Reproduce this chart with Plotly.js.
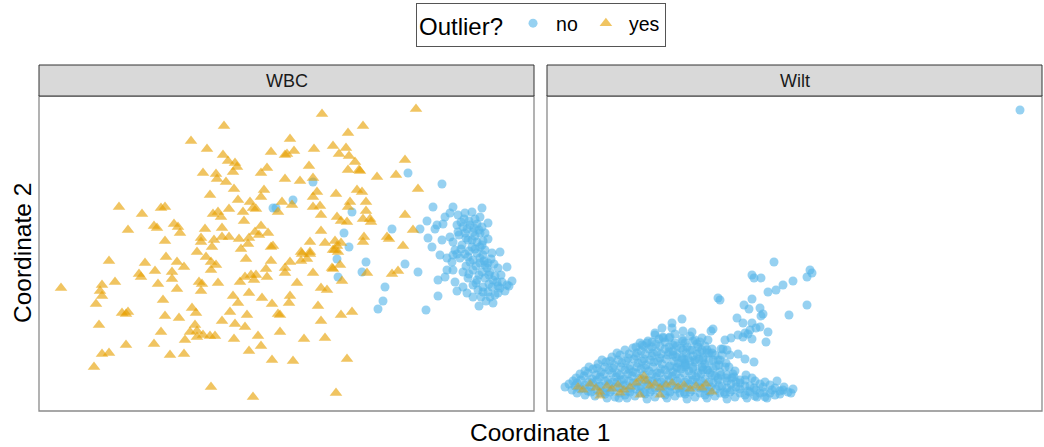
<!DOCTYPE html>
<html>
<head>
<meta charset="utf-8">
<script src="https://cdn.plot.ly/plotly-3.0.1.min.js"></script>
<style>html,body{margin:0;padding:0;background:#fff;}#chart{width:1044px;height:447px;}</style>
</head>
<body>
<div id="chart"></div>
<script>
// ---- Data (Coordinate 1, Coordinate 2), arbitrary MDS units ----
const panels = ["WBC", "Wilt"];
const legendLabels = ["no", "yes"];

const wbcYes = [
[185,285],[152,270],[168,262],[184,256],[189,250],[196,248],[198,244],[232,259],[246,256],[228,243],
[222,238],[246,232],[164,238],[177,237],[178,232],[194,239],[187,229],[195,222],[225,221],[222,214],
[171,216],[199,211],[211,209],[214,203],[217,202],[243,209],[239,199],[204,199],[190,202],[174,197],
[179,199],[182,194],[205,190],[80,204],[103,197],[122,203],[126,204],[89,181],[115,185],[118,183],
[135,187],[139,184],[141,178],[126,170],[166,182],[183,183],[222,185],[162,173],[162,169],[175,171],
[183,174],[190,174],[200,172],[210,173],[216,179],[220,176],[229,178],[209,167],[173,164],[202,162],
[232,164],[234,165],[158,159],
[377,302],[283,297],[324,285],[309,278],[251,272],[248,257],[255,260],[275,262],[294,265],[307,263],
[300,257],[310,255],[316,249],[366,251],[270,245],[309,241],[320,241],[321,240],[338,234],[357,236],
[261,230],[274,233],[379,222],[278,219],[274,214],[297,217],[318,221],[323,219],[253,206],[274,204],
[281,205],[311,209],[309,204],[327,209],[327,200],[282,196],[298,194],[302,190],[308,189],[324,192],
[331,192],[332,189],[366,196],[282,180],[374,181],[325,174],[324,169],[271,169],[286,168],[296,170],
[298,165],[302,168],[348,174],[350,172],[364,165],[294,161],[299,159],[262,159],[271,159],
[70,150],[22,123],[63,126],[61,120],[63,115],[57,107],[76,129],[106,148],[127,154],[138,149],
[145,144],[116,140],[100,137],[102,134],[133,139],[133,132],[119,127],[138,122],[124,111],[167,154],
[172,149],[177,146],[172,141],[207,152],[232,150],[227,142],[246,143],[246,138],[160,129],[163,127],
[162,120],[179,128],[201,129],[206,134],[212,136],[217,136],[215,131],[228,134],[194,115],[210,118],
[199,108],[223,113],[233,107],[239,97],[153,103],[157,98],[191,99],[208,96],[183,90],[196,87],
[206,84],[241,79],[219,75],[222,65],[210,60],[233,51],[195,72],[156,86],[151,79],[158,80],
[164,76],[158,74],[171,75],[176,75],[146,71],[126,95],[140,93],[122,79],[115,67],[131,56],
[145,57],[83,98],[89,99],[87,97],[60,86],[87,66],[63,57],[70,58],[55,44],[172,24],[214,14],
[251,149],[263,157],[271,157],[262,150],[268,152],[274,138],[294,142],[293,143],[301,146],[303,130],
[258,128],[282,123],[288,121],[251,115],[250,108],[279,105],[302,96],[313,99],[282,90],[241,96],
[265,72],[286,73],[254,50],[308,52],[297,18],[328,138],[353,137],[359,140],[296,161]
];

const wbcNo = [
[234,203],[237,203],[369,238],[403,227],[274,229],[254,211],[313,199],[305,178],[310,164],[353,182],
[381,182],[327,149],[323,139],[298,152],[299,134],[366,147],[379,139],[346,124],[344,110],[339,102],
[387,101],[399,115],[443,203],
[394,204],[414,204],[406,194],[411,198],[419,196],[426,198],[433,199],[441,194],[449,188],[388,190],
[398,186],[404,187],[396,182],[418,186],[424,184],[431,186],[438,187],[443,184],[419,179],[426,178],
[434,179],[441,178],[446,178],[389,173],[403,171],[411,174],[414,169],[429,171],[438,169],[449,172],
[393,164],[433,164],[441,164],[446,161],[401,156],[408,153],[414,156],[421,153],[429,154],[438,158],
[444,156],[453,158],[461,159],[413,149],[441,148],[449,148],[468,144],[408,141],[414,141],[424,139],
[434,141],[443,139],[451,139],[459,143],[399,131],[406,134],[416,129],[429,133],[438,131],[446,133],
[454,131],[463,129],[473,130],[424,124],[434,126],[444,124],[453,124],[459,125],[468,126],[418,120],
[428,118],[439,121],[449,119],[466,120],[434,114],[442,114],[451,114],[456,116],[454,108],[440,105],
[422,189],[436,175],[431,149],[448,143],[456,135],[423,166],[416,161],[461,123],[441,153],[427,145],
[425,192],[430,190],[436,192],[428,182],[435,183],[440,181],[420,176],[427,173],[433,171],[444,170],
[422,162],[430,160],[436,162],[443,166],[418,157],[426,157],[434,151],[445,150],[452,152],[437,145],
[446,146],[455,147],[430,137],[440,136],[450,136],[462,136],[437,128],[450,127],[458,129],[470,125],
[444,119],[459,118],[447,110]
];

const wiltNo = [
[473,301],[227,149],[205,136],[207,133],[214,133],[263,141],[260,134],[265,138],[246,130],[236,126],
[229,121],[221,119],[171,113],[173,111],[205,112],[197,106],[202,102],[213,103],[260,106],[242,96],
[214,95],[216,97],[190,93],[196,88],[205,88],[209,83],[213,84],[203,81],[221,79],[201,77],
[191,76],[184,73],[178,71],[205,72],[219,69],[166,82],[164,80],[174,62],[180,61],[191,57],
[198,52],[207,49],[135,92],[125,88],[125,83],[115,83],[136,80],[145,79],[108,78],[105,69],
[116,73],[123,74],[148,71],[155,73],[161,71],[151,64],[160,61],[165,58],[138,68],[145,61],
[141,53],[138,48],[155,44],[160,41],[171,51],[182,44],[180,36],[185,33],[95,66],[100,68],
[72,13],[210,14],[244,18],[236,21],
[196,74],[198,78],[146,70],[153,69],[128,68],[136,61],[155,61],[162,58],[176,62],[175,56],
[183,56],[126,56],[135,53],[148,51],[156,51],[166,51],[172,46],[187,34],[130,44],[138,46],
[146,44],[156,41],[165,36],[171,33],
[108,76],[116,74],[128,77],[143,75],
[93,68],[101,70],[109,67],[118,69],[126,66],[136,70],[150,67],
[78,61],[86,63],[94,60],[102,62],[110,59],[118,62],[126,60],[134,63],[143,61],[153,59],[165,62],
[65,54],[73,56],[81,53],[89,55],[97,52],[105,55],[113,53],[121,56],[129,54],[137,52],[146,55],[156,53],[168,56],
[51,47],[59,49],[67,46],[75,48],[83,45],[91,48],[99,46],[107,49],[115,47],[123,45],[131,48],[139,46],[148,49],[158,47],[169,45],[179,48],
[38,40],[46,42],[54,39],[62,41],[70,38],[78,41],[86,39],[94,42],[102,40],[110,38],[118,41],[126,39],[134,42],[142,40],[151,38],[161,41],[173,39],[188,40],
[29,33],[37,35],[45,32],[53,34],[61,31],[69,34],[77,32],[85,35],[93,33],[101,31],[109,34],[117,32],[125,35],[133,33],[141,31],[149,34],[158,32],[168,35],[179,33],[193,31],[205,33],
[22,27],[30,28],[38,26],[46,28],[54,25],[62,27],[70,29],[78,26],[86,28],[94,25],[102,27],[110,29],[118,26],[126,28],[134,25],[142,27],[150,29],[158,26],[166,28],[175,25],[184,27],[193,28],[203,25],[213,27],[223,26],
[25,21],[33,22],[41,20],[49,22],[57,19],[65,21],[73,23],[81,20],[89,22],[97,19],[105,21],[113,23],[121,20],[129,22],[137,19],[145,21],[153,23],[161,20],[169,22],[177,19],[185,21],[193,22],[201,20],[209,21],[217,19],[225,21],[233,20],[241,19],
[38,16],[48,15],[58,17],[68,14],[78,16],[88,15],[98,17],[108,14],[118,16],[128,15],[138,17],[148,14],[158,16],[168,15],[178,17],[188,14],[198,16],[208,15],[218,14],[228,16],
[112,72],[122,73],[135,72],
[89,64],[97,65],[105,64],[113,65],[122,64],[130,65],[140,64],[158,65],
[70,58],[82,57],[90,58],[98,57],[106,58],[114,57],[122,59],[130,57],[139,58],[150,57],[160,58],
[55,51],[63,50],[71,51],[79,50],[87,52],[95,50],[103,51],[111,50],[119,52],[127,50],[135,51],[143,50],[152,52],[162,50],[173,51],
[42,44],[50,43],[58,44],[66,43],[74,44],[82,42],[90,44],[98,43],[106,44],[114,42],[122,44],[130,43],[138,44],[146,42],[155,44],[166,43],[178,44],
[33,37],[41,38],[49,36],[57,37],[65,38],[73,36],[81,37],[89,38],[97,36],[105,37],[113,38],[121,36],[129,37],[137,38],[145,36],[154,37],[163,38],[174,36],[186,37],[199,36],
[26,30],[34,31],[42,29],[50,31],[58,30],[66,29],[74,31],[82,30],[90,29],[98,31],[106,30],[114,29],[122,31],[130,30],[138,29],[146,31],[154,30],[162,29],[171,31],[180,30],[189,29],[198,31],[208,30],[218,29],[230,30],
[18,24],[28,25],[36,23],[44,24],[52,25],[60,23],[68,24],[76,25],[84,23],[92,24],[100,25],[108,23],[116,24],[124,25],[132,23],[140,24],[148,25],[156,23],[164,24],[172,25],[180,23],[189,24],[198,25],[207,23],[216,24],[228,23],[237,24],[246,22],
[30,18],[44,19],[53,18],[63,19],[73,18],[83,19],[93,18],[103,19],[113,18],[123,19],[133,18],[143,19],[153,18],[163,19],[173,18],[183,19],[193,18],[203,19],[213,18],[223,18],[233,17],
[60,13],[80,13],[100,12],[120,13],[140,12],[160,13],[180,12],[200,13],[220,13]
];

const wiltYes = [
[31,24],[36,21],[43,27],[49,23],[53,19],[60,25],[65,22],[71,26],[77,21],[83,24],
[89,28],[93,32],[97,35],[99,30],[103,25],[108,27],[113,23],[119,26],[125,28],[131,24],
[137,26],[143,22],[149,25],[155,23],[159,27],[113,16],[93,16],[53,15],[165,19],[73,18]
];

// ---- Styling ----
const BLUE = "#56B4E9", ORANGE = "#E69F00";
const FONT = "Liberation Sans, Arial, Helvetica, sans-serif";
const xs = a => a.map(p => p[0]);
const ys = a => a.map(p => p[1]);

const noMarker = {symbol: "circle", size: 9, color: BLUE, opacity: 0.62, line: {width: 0}};
const yesMarker = {symbol: "triangle-up", size: 11, color: ORANGE, opacity: 0.62, line: {width: 0}};
const yesMarkerWilt = {symbol: "triangle-up", size: 10, color: ORANGE, opacity: 0.45, line: {width: 0}};

const traces = [
  {type: "scatter", mode: "markers", x: xs(wbcNo), y: ys(wbcNo), xaxis: "x", yaxis: "y",
   name: legendLabels[0], legendgroup: "no", marker: noMarker, hoverinfo: "skip"},
  {type: "scatter", mode: "markers", x: xs(wbcYes), y: ys(wbcYes), xaxis: "x", yaxis: "y",
   name: legendLabels[1], legendgroup: "yes", marker: yesMarker, hoverinfo: "skip"},
  {type: "scatter", mode: "markers", x: xs(wiltNo), y: ys(wiltNo), xaxis: "x2", yaxis: "y2",
   name: legendLabels[0], legendgroup: "no", showlegend: false, marker: noMarker, hoverinfo: "skip"},
  {type: "scatter", mode: "markers", x: xs(wiltYes), y: ys(wiltYes), xaxis: "x2", yaxis: "y2",
   name: legendLabels[1], legendgroup: "yes", showlegend: false, marker: yesMarkerWilt, hoverinfo: "skip"}
];

const W = 1044, H = 447;
const yDom = [1 - 411 / H, 1 - 96 / H];
const axBase = {showticklabels: false, ticks: "", showgrid: false, zeroline: false, showline: false, fixedrange: true};

const shapes = [];
const annotations = [];
[["x", "y"], ["x2", "y2"]].forEach((ax, i) => {
  shapes.push({type: "rect", xref: ax[0] + " domain", yref: ax[1] + " domain", x0: 0, x1: 1, y0: 0, y1: 1,
    line: {color: "#8a8a8a", width: 1.3}, fillcolor: "rgba(0,0,0,0)", layer: "above"});
  shapes.push({type: "rect", xref: ax[0] + " domain", yref: ax[1] + " domain", x0: 0, x1: 1, y0: 1, y1: 1 + 31 / 315,
    line: {color: "#333333", width: 1}, fillcolor: "#d9d9d9", layer: "above"});
  annotations.push({xref: ax[0] + " domain", yref: ax[1] + " domain", x: 0.5, y: 1 + 15.5 / 315,
    text: panels[i], showarrow: false, xanchor: "center", yanchor: "middle",
    font: {family: FONT, size: 18, color: "#1a1a1a"}});
});
annotations.push({xref: "paper", yref: "paper", x: 540 / W, y: 1 - 432 / H, text: "Coordinate 1",
  showarrow: false, xanchor: "center", yanchor: "middle", font: {family: FONT, size: 24.5, color: "#000"}});
annotations.push({xref: "paper", yref: "paper", x: 22 / W, y: 1 - 253 / H, text: "Coordinate 2", textangle: -90,
  showarrow: false, xanchor: "center", yanchor: "middle", font: {family: FONT, size: 24.5, color: "#000"}});

const layout = {
  width: W, height: H,
  margin: {l: 0, r: 0, t: 0, b: 0},
  paper_bgcolor: "#fff", plot_bgcolor: "#fff",
  font: {family: FONT},
  xaxis: Object.assign({}, axBase, {domain: [39 / W, 534 / W], range: [0, 495], anchor: "y"}),
  yaxis: Object.assign({}, axBase, {domain: yDom, range: [0, 315], anchor: "x"}),
  xaxis2: Object.assign({}, axBase, {domain: [547 / W, 1042 / W], range: [0, 495], anchor: "y2"}),
  yaxis2: Object.assign({}, axBase, {domain: yDom, range: [0, 315], anchor: "x2"}),
  showlegend: true,
  legend: {
    orientation: "h", x: 541 / W, xanchor: "center", y: 1 - 3 / H, yanchor: "top",
    title: {text: "Outlier?", side: "left", font: {family: FONT, size: 24, color: "#000"}},
    font: {family: FONT, size: 19.5, color: "#000"},
    bordercolor: "#555", borderwidth: 1, bgcolor: "#fff",
    itemsizing: "trace", itemwidth: 36, tracegroupgap: 0
  },
  shapes: shapes,
  annotations: annotations
};

Plotly.newPlot("chart", traces, layout, {displayModeBar: false, staticPlot: true});
</script>
</body>
</html>
